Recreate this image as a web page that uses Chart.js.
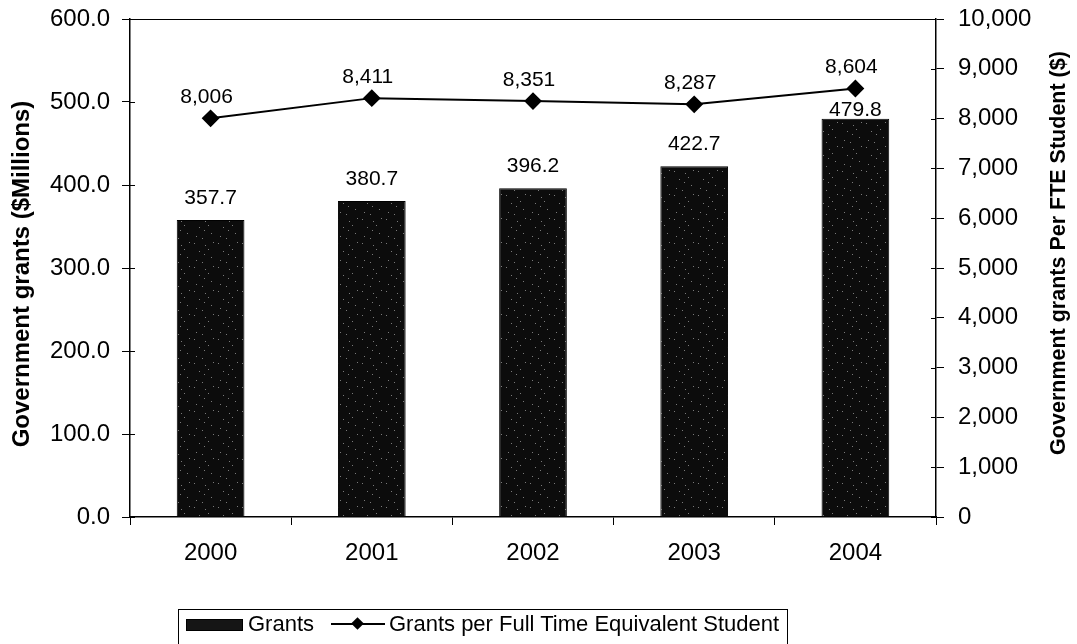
<!DOCTYPE html>
<html lang="en">
<head>
<meta charset="utf-8" />
<title>Government grants</title>
<style>
    html, body { margin: 0; padding: 0; background: #fff; overflow: hidden; }
    .wrap { position: relative; width: 1077px; height: 644px; }
    .legend {
        position: absolute; left: 178px; top: 609px; width: 610px; height: 44px;
        border: 1px solid #000; box-sizing: border-box;
        font: 22px "Liberation Sans", Arial, sans-serif; color: #000;
    }
    .legend span { position: absolute; top: 0; line-height: 28px; white-space: nowrap; }
    .sw-bar { position: absolute; left: 7px; top: 9px; width: 55px; height: 10px; background: #151515; border: 1px solid #000; }
    .sw-line { position: absolute; left: 152px; top: 13px; width: 54px; height: 2px; background: #000; }
    .sw-dot { position: absolute; left: 174px; top: 9px; width: 9px; height: 9px; background: #000; transform: rotate(45deg); }
</style>
</head>
<body>
<div class="wrap">
    <canvas id="chart" width="1077" height="644"></canvas>
    <div class="legend">
        <div class="sw-bar"></div><span style="left:69px">Grants</span>
        <div class="sw-line"></div><div class="sw-dot"></div>
        <span style="left:210px">Grants per Full Time Equivalent Student</span>
    </div>
</div>
<script src="https://cdn.jsdelivr.net/npm/chart.js@4.4.1/dist/chart.umd.min.js"></script>
<script>
    // data
    const years = ['2000', '2001', '2002', '2003', '2004'];
    const grants = [357.7, 380.7, 396.2, 422.7, 479.8];          // $ millions
    const perStudent = [8006, 8411, 8351, 8287, 8604];           // $ per FTE student
    const leftAxis = { min: 0, max: 600, step: 100 };
    const rightAxis = { min: 0, max: 10000, step: 1000 };
    const leftTitle = 'Government grants ($Millions)';
    const rightTitle = 'Government grants Per FTE Student ($)';

    Chart.defaults.font.family = '"Liberation Sans", Arial, sans-serif';
    Chart.defaults.color = '#000';

    // speckled black fill like the scanned bars
    function speckle() {
        const c = document.createElement('canvas');
        c.width = 24; c.height = 24;
        const g = c.getContext('2d');
        g.fillStyle = '#0c0c0c';
        g.fillRect(0, 0, 24, 24);
        g.fillStyle = '#7a7a7a';
        [[2, 3], [7, 11], [13, 5], [19, 17], [4, 20], [16, 9], [10, 22], [21, 2], [12, 14]]
            .forEach(d => g.fillRect(d[0], d[1], 1, 1));
        return g.createPattern(c, 'repeat');
    }

    // vertical axes: fixed width, no extra padding for the end labels
    function fitY(width) {
        return s => {
            s.width = width;
            s.paddingTop = 0;
            s.paddingBottom = 0;
        };
    }

    // top border, inner tick marks and rotated axis titles
    const frame = {
        id: 'frame',
        afterDraw(chart) {
            const { ctx, chartArea: a, scales } = chart;
            ctx.save();
            ctx.strokeStyle = '#000';
            ctx.lineWidth = 1;
            ctx.beginPath();
            ctx.moveTo(a.left, a.top + 0.5);
            ctx.lineTo(a.right, a.top + 0.5);
            scales.y.ticks.forEach(t => {
                const y = Math.round(scales.y.getPixelForValue(t.value)) + 0.5;
                ctx.moveTo(a.left, y); ctx.lineTo(a.left + 5, y);
            });
            scales.y1.ticks.forEach(t => {
                const y = Math.round(scales.y1.getPixelForValue(t.value)) + 0.5;
                ctx.moveTo(a.right - 5, y); ctx.lineTo(a.right, y);
            });
            ctx.stroke();

            ctx.fillStyle = '#000';
            ctx.font = 'bold 24px "Liberation Sans", Arial, sans-serif';
            ctx.textAlign = 'center';
            ctx.textBaseline = 'middle';
            const midY = (a.top + a.bottom) / 2;
            ctx.translate(22, midY + 6);
            ctx.rotate(-Math.PI / 2);
            ctx.fillText(leftTitle, 0, 0);
            ctx.restore();

            ctx.save();
            ctx.fillStyle = '#000';
            ctx.font = 'bold 21.5px "Liberation Sans", Arial, sans-serif';
            ctx.textAlign = 'center';
            ctx.textBaseline = 'middle';
            ctx.translate(1059, midY - 15);
            ctx.rotate(-Math.PI / 2);
            ctx.fillText(rightTitle, 0, 0);
            ctx.restore();
        }
    };

    // value labels above bars and markers
    const valueLabels = {
        id: 'valueLabels',
        afterDatasetsDraw(chart) {
            const { ctx } = chart;
            ctx.save();
            ctx.fillStyle = '#000';
            ctx.font = '21px "Liberation Sans", Arial, sans-serif';
            ctx.textAlign = 'center';
            ctx.textBaseline = 'middle';
            chart.getDatasetMeta(1).data.forEach((el, i) => {
                const off = i === grants.length - 1 ? 9 : 22;
                ctx.fillText(grants[i].toFixed(1), el.x, el.y - off);
            });
            chart.getDatasetMeta(0).data.forEach((el, i) => {
                ctx.fillText(perStudent[i].toLocaleString('en-US'), el.x - 4, el.y - 21);
            });
            ctx.restore();
        }
    };

    new Chart(document.getElementById('chart'), {
        type: 'bar',
        data: {
            labels: years,
            datasets: [{
                type: 'line',
                label: 'Grants per Full Time Equivalent Student',
                data: perStudent,
                yAxisID: 'y1',
                borderColor: '#000',
                borderWidth: 2,
                backgroundColor: '#000',
                pointStyle: 'rectRot',
                pointRadius: 7.5,
                pointBackgroundColor: '#000',
                pointBorderColor: '#000',
                tension: 0,
                order: 0
            }, {
                label: 'Grants',
                data: grants,
                yAxisID: 'y',
                backgroundColor: speckle(),
                borderColor: '#000',
                borderWidth: 1,
                categoryPercentage: 1,
                barPercentage: 0.42,
                order: 1
            }]
        },
        options: {
            responsive: false,
            animation: false,
            layout: { padding: { top: 19, left: 0, right: 0, bottom: 0 } },
            plugins: {
                legend: { display: false },
                tooltip: { enabled: false }
            },
            scales: {
                x: {
                    offset: true,
                    grid: { drawOnChartArea: false, offset: true, tickLength: 8, color: '#000' },
                    border: { color: '#000', width: 1.5 },
                    ticks: { font: { size: 24 }, padding: 14 },
                    afterFit: s => { s.height = 127; }
                },
                y: {
                    position: 'left',
                    min: leftAxis.min,
                    max: leftAxis.max,
                    grid: { drawOnChartArea: false, tickLength: 8, color: '#000' },
                    border: { color: '#000', width: 1.5 },
                    ticks: {
                        stepSize: leftAxis.step,
                        font: { size: 24 },
                        padding: 12,
                        callback: v => Number(v).toFixed(1)
                    },
                    afterFit: fitY(130)
                },
                y1: {
                    position: 'right',
                    min: rightAxis.min,
                    max: rightAxis.max,
                    grid: { drawOnChartArea: false, tickLength: 8, color: '#000' },
                    border: { color: '#000', width: 1.5 },
                    ticks: {
                        stepSize: rightAxis.step,
                        font: { size: 24 },
                        padding: 14,
                        callback: v => Number(v).toLocaleString('en-US')
                    },
                    afterFit: fitY(141)
                }
            }
        },
        plugins: [frame, valueLabels]
    });
</script>
</body>
</html>
